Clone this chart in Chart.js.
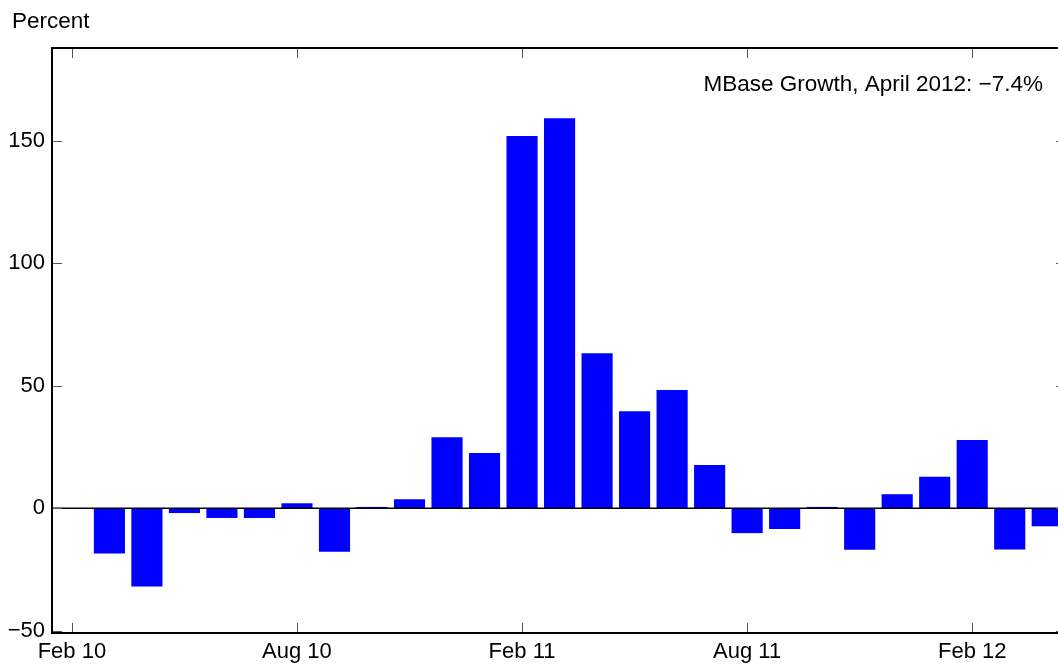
<!DOCTYPE html>
<html>
<head>
<meta charset="utf-8">
<script src="https://cdn.jsdelivr.net/npm/chart.js@4/dist/chart.umd.min.js"></script>
<style>
  html, body { margin: 0; padding: 0; background: #fff; overflow: hidden; }
  #wrap { width: 1066px; height: 669px; }
</style>
</head>
<body>
<div id="wrap"><canvas id="growth" width="1066" height="669"></canvas></div>
<script>
// months since Feb 2010 (Feb 10 = 0)
const months = ["Mar 10", "Apr 10", "May 10", "Jun 10", "Jul 10", "Aug 10", "Sep 10", "Oct 10", "Nov 10", "Dec 10",
  "Jan 11", "Feb 11", "Mar 11", "Apr 11", "May 11", "Jun 11", "Jul 11", "Aug 11", "Sep 11", "Oct 11",
  "Nov 11", "Dec 11", "Jan 12", "Feb 12", "Mar 12", "Apr 12"];
const growth = [-18.5, -32, -2, -4, -4, 2, -17.8, 0.5, 3.6, 29,
  22.5, 152, 159.3, 63.3, 39.6, 48.3, 17.6, -10.2, -8.5, 0.5,
  -17, 5.7, 12.8, 27.9, -16.9, -7.4];
const xTickPos = [0, 6, 12, 18, 24];
const xTickLabels = ["Feb 10", "Aug 10", "Feb 11", "Aug 11", "Feb 12"];
const yTicks = [-50, 0, 50, 100, 150];
const noteText = "MBase Growth, April 2012: \u22127.4%";

const FONT = "'Liberation Sans', Arial, Helvetica, sans-serif";

const frame = {
  id: "frame",
  afterDatasetsDraw(chart) {
    const ctx = chart.ctx, a = chart.chartArea;
    const xs = chart.scales.x, ys = chart.scales.y;
    ctx.save();
    // zero line
    ctx.strokeStyle = "#000";
    ctx.lineWidth = 1.5;
    const y0 = ys.getPixelForValue(0);
    ctx.beginPath(); ctx.moveTo(a.left, y0); ctx.lineTo(a.right, y0); ctx.stroke();
    // inward ticks
    ctx.strokeStyle = "#555";
    ctx.lineWidth = 1;
    xTickPos.forEach(v => {
      const px = Math.round(xs.getPixelForValue(v)) + 0.5;
      ctx.beginPath();
      ctx.moveTo(px, a.bottom); ctx.lineTo(px, a.bottom - 10);
      ctx.moveTo(px, a.top); ctx.lineTo(px, a.top + 10);
      ctx.stroke();
    });
    yTicks.forEach(v => {
      const py = Math.round(ys.getPixelForValue(v)) + 0.5;
      ctx.beginPath();
      ctx.moveTo(a.left, py); ctx.lineTo(a.left + 10, py);
      ctx.moveTo(a.right, py); ctx.lineTo(a.right - 10, py);
      ctx.stroke();
    });
    // box
    ctx.strokeStyle = "#000";
    ctx.lineWidth = 2;
    ctx.strokeRect(a.left, a.top, a.right - a.left, a.bottom - a.top);
    // texts
    ctx.fillStyle = "#000";
    ctx.font = "22.5px " + FONT;
    ctx.textBaseline = "alphabetic";
    ctx.textAlign = "left";
    ctx.fillText("Percent", 12, 28);
    ctx.textAlign = "right";
    ctx.fillText(noteText, 1043, 91);
    ctx.restore();
  }
};

new Chart(document.getElementById("growth"), {
  type: "bar",
  data: {
    datasets: [{
      data: growth.map((v, i) => ({ x: i + 1, y: v })),
      backgroundColor: "#0000ff",
      borderWidth: 0,
      barPercentage: 0.83,
      categoryPercentage: 1
    }]
  },
  options: {
    responsive: false,
    animation: false,
    layout: { padding: { top: 48, left: 0, right: 0, bottom: 0 } },
    plugins: { legend: { display: false }, tooltip: { enabled: false } },
    scales: {
      x: {
        type: "linear",
        offset: false,
        min: -0.53,
        max: 26.5,
        grid: { display: false, drawTicks: false, offset: false },
        border: { display: false },
        afterBuildTicks: s => { s.ticks = xTickPos.map(v => ({ value: v })); },
        afterFit: s => { s.height = 36; },
        ticks: {
          autoSkip: false,
          maxRotation: 0,
          padding: 6,
          color: "#000",
          font: { family: FONT, size: 22 },
          callback: v => xTickLabels[xTickPos.indexOf(v)]
        }
      },
      y: {
        min: -51,
        max: 188,
        grid: { display: false, drawTicks: false },
        border: { display: false },
        afterBuildTicks: s => { s.ticks = yTicks.map(v => ({ value: v })); },
        afterFit: s => { s.width = 52; },
        ticks: {
          padding: 7,
          color: "#000",
          font: { family: FONT, size: 22 },
          callback: v => (v < 0 ? "\u2212" + Math.abs(v) : String(v))
        }
      }
    }
  },
  plugins: [frame]
});
</script>
</body>
</html>
